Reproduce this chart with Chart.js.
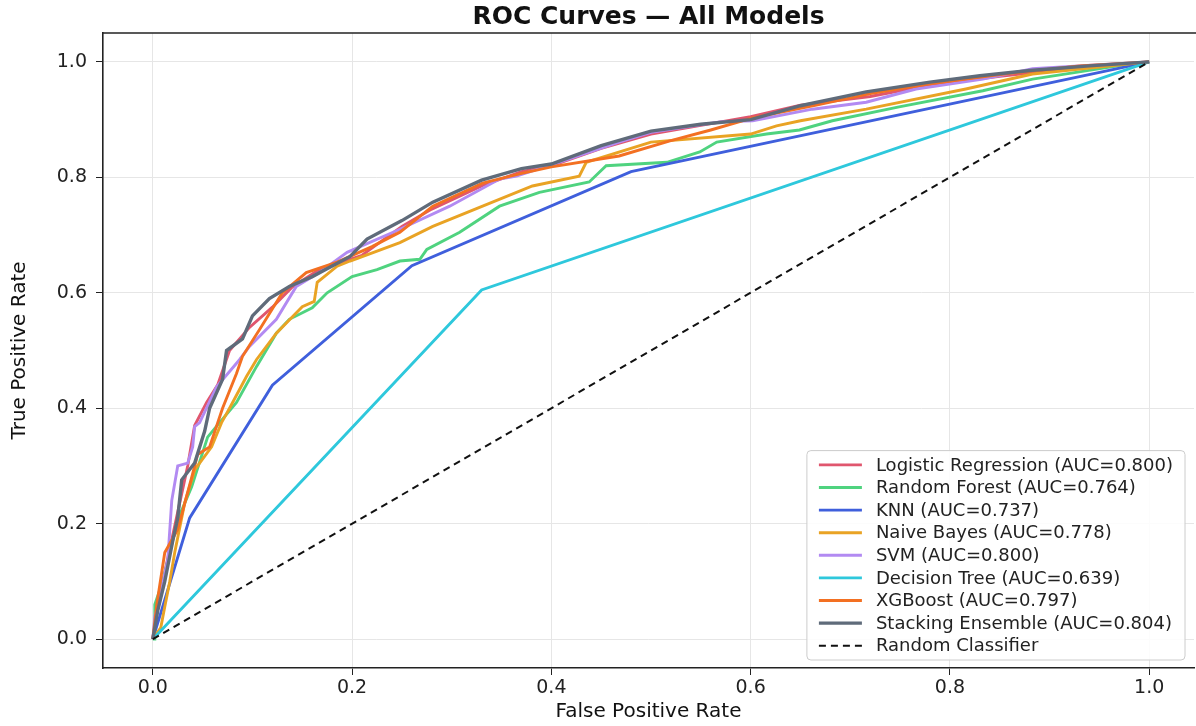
<!DOCTYPE html>
<html lang="en">
<head>
  <meta charset="UTF-8">
  <title>ROC Curves — All Models</title>
  <script src="https://cdn.jsdelivr.net/npm/chart.js"></script>
  <style>
    body {
      margin: 0;
      background: #fff;
    }
    #roc {
      display: block;
    }
  </style>
</head>
<body>
  <canvas id="roc" width="1196" height="726"></canvas>

  <script>
    // values (FPR on x, TPR on y)
    const tickValues = [0, 0.2, 0.4, 0.6, 0.8, 1.0];

    const lrFpr = [0, 0.005, 0.015, 0.025, 0.035, 0.042, 0.054, 0.065, 0.077, 0.097, 0.12, 0.14, 0.167, 0.21, 0.25, 0.28, 0.33, 0.37, 0.40, 0.45, 0.50, 0.55, 0.60, 0.65, 0.72, 0.78, 0.85, 0.93, 1];
    const lrTpr = [0, 0.06, 0.14, 0.22, 0.30, 0.37, 0.41, 0.44, 0.50, 0.54, 0.575, 0.61, 0.64, 0.665, 0.715, 0.745, 0.785, 0.81, 0.82, 0.85, 0.875, 0.89, 0.905, 0.925, 0.94, 0.96, 0.975, 0.99, 1];

    const rfFpr = [0, 0.002, 0.002, 0.01, 0.025, 0.039, 0.055, 0.067, 0.084, 0.104, 0.124, 0.137, 0.16, 0.175, 0.20, 0.225, 0.248, 0.268, 0.275, 0.308, 0.348, 0.388, 0.438, 0.455, 0.516, 0.549, 0.566, 0.616, 0.649, 0.682, 0.749, 0.833, 0.883, 0.983, 1];
    const rfTpr = [0, 0.0, 0.06, 0.10, 0.207, 0.264, 0.35, 0.375, 0.41, 0.472, 0.53, 0.554, 0.574, 0.60, 0.628, 0.64, 0.655, 0.658, 0.675, 0.705, 0.75, 0.774, 0.792, 0.82, 0.826, 0.844, 0.861, 0.875, 0.882, 0.898, 0.922, 0.95, 0.97, 0.997, 1];

    const knnFpr = [0, 0.037, 0.12, 0.26, 0.48, 1];
    const knnTpr = [0, 0.21, 0.44, 0.647, 0.81, 1];

    const nbFpr = [0, 0.008, 0.012, 0.017, 0.022, 0.032, 0.042, 0.059, 0.069, 0.077, 0.094, 0.104, 0.124, 0.15, 0.162, 0.165, 0.185, 0.198, 0.248, 0.281, 0.331, 0.381, 0.428, 0.435, 0.50, 0.60, 0.626, 0.65, 0.716, 0.816, 0.883, 0.983, 1];
    const nbTpr = [0, 0.02, 0.056, 0.10, 0.15, 0.236, 0.293, 0.333, 0.375, 0.40, 0.455, 0.484, 0.53, 0.576, 0.585, 0.618, 0.646, 0.655, 0.687, 0.715, 0.75, 0.785, 0.802, 0.826, 0.861, 0.875, 0.889, 0.898, 0.918, 0.953, 0.979, 0.997, 1];

    const svmFpr = [0, 0.002, 0.005, 0.015, 0.019, 0.025, 0.035, 0.04, 0.042, 0.047, 0.064, 0.087, 0.097, 0.124, 0.144, 0.167, 0.195, 0.248, 0.298, 0.348, 0.365, 0.418, 0.468, 0.50, 0.569, 0.602, 0.662, 0.716, 0.766, 0.833, 0.883, 0.95, 1];
    const svmTpr = [0, 0.04, 0.056, 0.137, 0.24, 0.30, 0.305, 0.333, 0.368, 0.375, 0.437, 0.484, 0.507, 0.554, 0.611, 0.635, 0.67, 0.71, 0.75, 0.797, 0.802, 0.832, 0.861, 0.878, 0.896, 0.898, 0.918, 0.93, 0.953, 0.97, 0.988, 0.995, 1];

    const dtFpr = [0, 0.33, 1];
    const dtTpr = [0, 0.605, 1];

    const xgbFpr = [0, 0.004, 0.012, 0.025, 0.039, 0.045, 0.057, 0.07, 0.084, 0.09, 0.107, 0.13, 0.154, 0.185, 0.22, 0.248, 0.281, 0.331, 0.368, 0.40, 0.468, 0.519, 0.56, 0.602, 0.666, 0.72, 0.78, 0.85, 0.93, 1];
    const xgbTpr = [0, 0.06, 0.15, 0.19, 0.28, 0.32, 0.333, 0.40, 0.46, 0.49, 0.536, 0.60, 0.635, 0.653, 0.68, 0.705, 0.75, 0.79, 0.806, 0.818, 0.837, 0.863, 0.882, 0.903, 0.925, 0.945, 0.962, 0.978, 0.993, 1];

    const stackFpr = [0, 0.005, 0.012, 0.02, 0.025, 0.029, 0.042, 0.052, 0.057, 0.07, 0.074, 0.09, 0.10, 0.117, 0.137, 0.16, 0.198, 0.215, 0.25, 0.281, 0.33, 0.37, 0.40, 0.45, 0.50, 0.55, 0.60, 0.65, 0.716, 0.78, 0.83, 0.88, 0.94, 1];
    const stackTpr = [0, 0.05, 0.10, 0.17, 0.21, 0.276, 0.305, 0.36, 0.40, 0.45, 0.50, 0.52, 0.56, 0.59, 0.611, 0.628, 0.663, 0.693, 0.725, 0.757, 0.795, 0.815, 0.823, 0.855, 0.88, 0.892, 0.90, 0.924, 0.948, 0.965, 0.976, 0.985, 0.993, 1];

    const randFpr = [0, 1];
    const randTpr = [0, 1];

    const modelLabels = [
      'Logistic Regression (AUC=0.800)',
      'Random Forest (AUC=0.764)',
      'KNN (AUC=0.737)',
      'Naive Bayes (AUC=0.778)',
      'SVM (AUC=0.800)',
      'Decision Tree (AUC=0.639)',
      'XGBoost (AUC=0.797)',
      'Stacking Ensemble (AUC=0.804)',
      'Random Classifier'
    ];
    const modelColors = ['#e0566e', '#4fd37f', '#3f5fdc', '#e9a324', '#b28af2', '#2ec8dc', '#f37022', '#5f6b7a', '#111111'];
    const curves = [
      [lrFpr, lrTpr], [rfFpr, rfTpr], [knnFpr, knnTpr], [nbFpr, nbTpr], [svmFpr, svmTpr],
      [dtFpr, dtTpr], [xgbFpr, xgbTpr], [stackFpr, stackTpr], [randFpr, randTpr]
    ];

    const FONT = "'DejaVu Sans', 'Noto Sans', sans-serif";
    Chart.defaults.font.family = FONT;

    const datasets = curves.map(([fx, ty], i) => {
      const isRandom = i === curves.length - 1;
      return {
        label: modelLabels[i],
        data: fx.map((x, k) => ({ x: x, y: ty[k] })),
        borderColor: modelColors[i],
        borderWidth: isRandom ? 2 : (i === 7 ? 3.4 : 2.9),
        borderDash: isRandom ? [7, 5] : [],
        pointRadius: 0,
        fill: false,
        tension: 0,
        // later series sit on top, like the original
        order: curves.length - i
      };
    });

    // top spine
    const framePlugin = {
      id: 'frame',
      afterDraw(chart) {
        const { ctx, chartArea } = chart;
        ctx.save();
        ctx.strokeStyle = '#222';
        ctx.lineWidth = 1.6;
        ctx.beginPath();
        ctx.moveTo(chartArea.left, chartArea.top);
        ctx.lineTo(chartArea.right + 2, chartArea.top);
        ctx.stroke();
        ctx.restore();
      }
    };

    // legend box in the lower right corner of the plot
    const insideLegend = {
      id: 'insideLegend',
      afterDraw(chart) {
        const { ctx, chartArea } = chart;
        const rowH = 22.6;
        const lineLen = 43, gap = 14, padX = 12;
        ctx.save();
        ctx.font = '18px ' + FONT;
        let maxW = 0;
        modelLabels.forEach(t => { maxW = Math.max(maxW, ctx.measureText(t).width); });
        const w = padX + lineLen + gap + maxW + padX;
        const h = modelLabels.length * rowH + 6;
        const right = chartArea.right - 9;
        const bottom = chartArea.bottom - 8;
        const left = right - w, top = bottom - h;

        ctx.fillStyle = 'rgba(255,255,255,0.85)';
        ctx.strokeStyle = '#cccccc';
        ctx.lineWidth = 1;
        ctx.beginPath();
        ctx.roundRect(left, top, w, h, 4);
        ctx.fill();
        ctx.stroke();

        ctx.textBaseline = 'middle';
        ctx.textAlign = 'left';
        modelLabels.forEach((t, i) => {
          const y = top + 3 + rowH / 2 + i * rowH;
          const ds = datasets[i];
          ctx.strokeStyle = ds.borderColor;
          ctx.lineWidth = ds.borderWidth;
          ctx.setLineDash(ds.borderDash);
          ctx.beginPath();
          ctx.moveTo(left + padX, y);
          ctx.lineTo(left + padX + lineLen, y);
          ctx.stroke();
          ctx.setLineDash([]);
          ctx.fillStyle = '#222';
          ctx.fillText(t, left + padX + lineLen + gap, y + 1);
        });
        ctx.restore();
      }
    };

    const ctx = document.getElementById('roc').getContext('2d');
    new Chart(ctx, {
      type: 'line',
      data: { datasets: datasets },
      options: {
        responsive: false,
        animation: false,
        layout: { padding: { right: 2 } },
        plugins: {
          legend: { display: false },
          tooltip: { enabled: false },
          title: {
            display: true,
            text: 'ROC Curves — All Models',
            fullSize: false,
            color: '#111',
            font: { size: 25, weight: 'bold' },
            padding: { top: 2, bottom: 1 }
          }
        },
        scales: {
          x: {
            type: 'linear',
            min: -0.05,
            max: 1.045,
            afterFit: s => { s.height = 58; },
            afterBuildTicks: s => { s.ticks = tickValues.map(v => ({ value: v })); },
            ticks: {
              callback: v => v.toFixed(1),
              color: '#222',
              font: { size: 19 },
              padding: 2,
              maxRotation: 0
            },
            grid: { color: '#e6e6e6', tickColor: '#222', tickLength: 7 },
            border: { color: '#222', width: 1.6 },
            title: {
              display: true,
              text: 'False Positive Rate',
              color: '#111',
              font: { size: 20 },
              padding: { top: 0, bottom: 2 }
            }
          },
          y: {
            type: 'linear',
            min: -0.05,
            max: 1.05,
            afterFit: s => { s.width = 103; },
            afterBuildTicks: s => { s.ticks = tickValues.map(v => ({ value: v })); },
            ticks: {
              callback: v => v.toFixed(1),
              color: '#222',
              font: { size: 19 },
              padding: 9
            },
            grid: { color: '#e6e6e6', tickColor: '#222', tickLength: 7 },
            border: { color: '#222', width: 1.6 },
            title: {
              display: true,
              text: 'True Positive Rate',
              color: '#111',
              font: { size: 20 },
              padding: { top: 8, bottom: 0 }
            }
          }
        }
      },
      plugins: [framePlugin, insideLegend]
    });
  </script>
</body>
</html>
